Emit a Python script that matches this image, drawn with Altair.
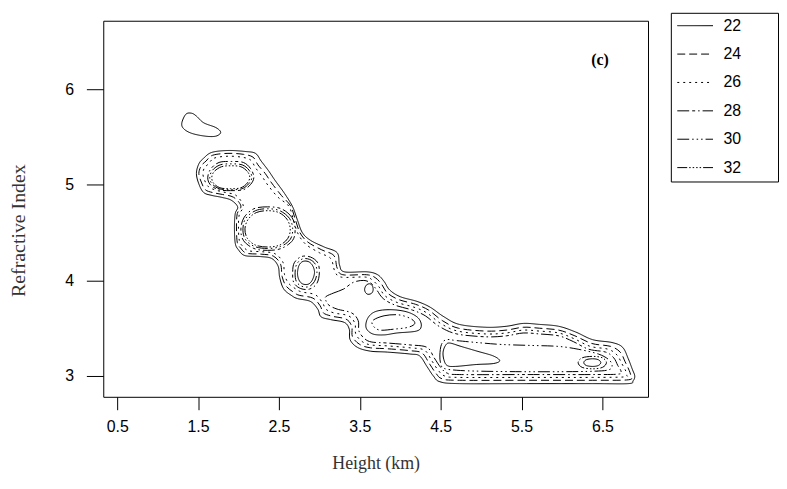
import altair as alt
import pandas as pd

# ---------------- axis ticks, legend levels, panel label ----------------
x_ticks = [0.5, 1.5, 2.5, 3.5, 4.5, 5.5, 6.5]
y_ticks = [3, 4, 5, 6]
legend_levels = ["22", "24", "26", "28", "30", "32"]
all_levels = legend_levels + ["34"]

panel_label = ["(c)"]
panel_label_x = [6.47]
panel_label_y = [6.31]

# ---------------- contour lines (height km, refractive index) ----------------
island_22 = [(1.35, 5.74), (1.42, 5.75), (1.48, 5.72), (1.57, 5.65), (1.72, 5.60), (1.78, 5.55),
             (1.72, 5.51), (1.59, 5.51), (1.42, 5.54), (1.32, 5.59), (1.30, 5.65)]

ridge_22 = [(1.57, 5.28), (1.67, 5.34), (1.87, 5.36), (2.08, 5.35), (2.21, 5.33), (2.28, 5.25), (2.37, 5.15),
            (2.45, 5.05), (2.57, 4.91), (2.67, 4.77), (2.73, 4.63), (2.79, 4.50), (2.89, 4.42), (3.06, 4.35),
            (3.22, 4.29), (3.25, 4.16), (3.31, 4.09), (3.59, 4.09), (3.72, 4.06), (3.80, 3.99), (3.87, 3.90),
            (4.00, 3.83), (4.21, 3.78), (4.37, 3.72), (4.54, 3.62), (4.73, 3.54), (5.06, 3.51), (5.31, 3.52),
            (5.52, 3.55), (5.72, 3.54), (5.96, 3.52), (6.17, 3.46), (6.38, 3.38), (6.62, 3.35), (6.75, 3.30),
            (6.82, 3.18), (6.87, 3.07), (6.90, 3.00), (6.88, 2.95), (6.82, 2.92), (6.38, 2.92), (5.56, 2.92),
            (4.73, 2.92), (4.49, 2.94), (4.41, 3.00), (4.33, 3.10), (4.24, 3.21), (4.12, 3.23), (3.84, 3.25),
            (3.63, 3.26), (3.47, 3.30), (3.38, 3.38), (3.37, 3.49), (3.31, 3.56), (3.14, 3.59), (3.02, 3.62),
            (2.98, 3.70), (2.89, 3.78), (2.73, 3.81), (2.66, 3.84), (2.56, 3.91), (2.51, 4.03), (2.49, 4.15),
            (2.41, 4.23), (2.27, 4.25), (2.08, 4.26), (2.00, 4.32), (1.96, 4.39), (1.95, 4.56), (1.96, 4.70),
            (1.99, 4.77), (1.91, 4.84), (1.79, 4.87), (1.67, 4.89), (1.57, 4.92), (1.51, 5.01), (1.48, 5.12),
            (1.51, 5.22)]

ridge_24 = [(1.60, 5.25), (1.68, 5.31), (1.87, 5.33), (2.06, 5.32), (2.18, 5.29), (2.24, 5.21), (2.33, 5.12),
            (2.41, 5.02), (2.53, 4.89), (2.645, 4.78), (2.70, 4.645), (2.76, 4.50), (2.86, 4.40), (3.03, 4.32),
            (3.18, 4.26), (3.22, 4.13), (3.29, 4.06), (3.58, 4.06), (3.69, 4.03), (3.77, 3.96), (3.84, 3.87),
            (3.98, 3.80), (4.19, 3.75), (4.35, 3.69), (4.52, 3.58), (4.72, 3.50), (5.06, 3.47), (5.31, 3.48),
            (5.52, 3.51), (5.72, 3.50), (5.96, 3.48), (6.16, 3.42), (6.37, 3.34), (6.60, 3.31), (6.72, 3.25),
            (6.78, 3.15), (6.83, 3.06), (6.85, 3.00), (6.82, 2.96), (6.38, 2.955), (5.56, 2.955), (4.73, 2.955),
            (4.52, 2.97), (4.44, 3.03), (4.36, 3.13), (4.27, 3.24), (4.12, 3.265), (3.84, 3.285), (3.63, 3.295),
            (3.50, 3.33), (3.41, 3.41), (3.40, 3.52), (3.33, 3.595), (3.16, 3.625), (3.05, 3.66), (3.01, 3.735),
            (2.92, 3.815), (2.75, 3.845), (2.685, 3.875), (2.59, 3.94), (2.54, 4.04), (2.52, 4.17), (2.43, 4.255),
            (2.28, 4.275), (2.10, 4.285), (2.025, 4.34), (1.985, 4.40), (1.975, 4.56), (1.985, 4.70), (2.03, 4.78),
            (1.94, 4.87), (1.80, 4.90), (1.68, 4.92), (1.59, 4.95), (1.54, 5.03), (1.51, 5.12), (1.54, 5.20)]

ridge_26 = [(1.63, 5.22), (1.70, 5.28), (1.87, 5.30), (2.04, 5.29), (2.15, 5.26), (2.21, 5.18), (2.29, 5.09),
            (2.37, 4.99), (2.49, 4.87), (2.62, 4.78), (2.675, 4.65), (2.73, 4.50), (2.83, 4.38), (3.00, 4.29),
            (3.14, 4.23), (3.19, 4.10), (3.27, 4.035), (3.57, 4.035), (3.66, 4.00), (3.74, 3.93), (3.81, 3.84),
            (3.96, 3.77), (4.17, 3.72), (4.33, 3.66), (4.50, 3.55), (4.71, 3.47), (5.06, 3.44), (5.31, 3.45),
            (5.52, 3.48), (5.72, 3.47), (5.96, 3.45), (6.15, 3.39), (6.35, 3.31), (6.57, 3.28), (6.68, 3.22),
            (6.74, 3.13), (6.79, 3.05), (6.80, 3.01), (6.77, 2.99), (6.38, 2.985), (5.56, 2.985), (4.73, 2.985),
            (4.55, 3.00), (4.47, 3.06), (4.39, 3.16), (4.30, 3.27), (4.12, 3.295), (3.84, 3.315), (3.64, 3.325),
            (3.53, 3.36), (3.45, 3.44), (3.44, 3.55), (3.36, 3.63), (3.18, 3.66), (3.08, 3.70), (3.04, 3.765),
            (2.95, 3.85), (2.78, 3.88), (2.71, 3.91), (2.62, 3.97), (2.57, 4.06), (2.55, 4.19), (2.45, 4.28),
            (2.30, 4.30), (2.13, 4.31), (2.05, 4.36), (2.01, 4.42), (2.00, 4.56), (2.01, 4.69), (2.06, 4.78),
            (1.97, 4.89), (1.84, 4.92), (1.72, 4.945), (1.63, 4.98), (1.58, 5.05), (1.56, 5.12), (1.58, 5.18)]

mid_tail_28 = [(3.08, 3.83), (3.18, 3.87), (3.30, 3.91), (3.42, 3.98), (3.55, 4.00), (3.64, 3.97), (3.71, 3.90),
               (3.79, 3.81), (3.94, 3.74), (4.15, 3.69), (4.31, 3.63), (4.48, 3.52), (4.70, 3.44), (5.06, 3.41),
               (5.31, 3.42), (5.52, 3.45), (5.72, 3.44), (5.96, 3.42), (6.14, 3.36), (6.33, 3.28), (6.54, 3.25),
               (6.64, 3.19), (6.69, 3.11), (6.73, 3.05), (6.70, 3.02), (6.38, 3.015), (5.56, 3.015), (4.73, 3.015),
               (4.58, 3.03), (4.50, 3.09), (4.42, 3.19), (4.33, 3.30), (4.12, 3.325), (3.84, 3.345), (3.65, 3.355),
               (3.56, 3.39), (3.49, 3.47), (3.48, 3.58), (3.40, 3.66), (3.22, 3.70), (3.12, 3.74), (3.08, 3.79)]

upper_28 = [(2.19, 5.08), (2.15, 5.17), (2.06, 5.235), (1.91, 5.245), (1.76, 5.235), (1.66, 5.17), (1.62, 5.08),
            (1.65, 5.005), (1.75, 4.95), (1.90, 4.94), (2.06, 4.95), (2.15, 5.005)]
upper_30 = [(2.165, 5.08), (2.13, 5.155), (2.045, 5.21), (1.91, 5.22), (1.775, 5.21), (1.68, 5.155), (1.645, 5.08),
            (1.67, 5.015), (1.76, 4.96), (1.90, 4.95), (2.045, 4.96), (2.13, 5.015)]
upper_32 = [(2.14, 5.08), (2.11, 5.14), (2.03, 5.19), (1.91, 5.20), (1.79, 5.19), (1.70, 5.14), (1.67, 5.08),
            (1.69, 5.02), (1.77, 4.97), (1.90, 4.96), (2.03, 4.97), (2.11, 5.02)]

lower_28 = [(2.70, 4.54), (2.66, 4.66), (2.53, 4.75), (2.36, 4.77), (2.19, 4.75), (2.07, 4.66), (2.03, 4.54),
            (2.06, 4.42), (2.19, 4.335), (2.36, 4.315), (2.53, 4.335), (2.67, 4.42)]
lower_30 = [(2.67, 4.54), (2.63, 4.65), (2.51, 4.73), (2.36, 4.75), (2.21, 4.73), (2.09, 4.65), (2.055, 4.54),
            (2.085, 4.43), (2.20, 4.355), (2.36, 4.335), (2.52, 4.355), (2.64, 4.43)]
lower_32 = [(2.64, 4.54), (2.60, 4.64), (2.50, 4.71), (2.36, 4.73), (2.22, 4.71), (2.12, 4.64), (2.08, 4.54),
            (2.11, 4.44), (2.21, 4.37), (2.36, 4.35), (2.51, 4.37), (2.61, 4.44)]

knot_28 = [(3.00, 4.08), (2.98, 4.185), (2.89, 4.245), (2.78, 4.25), (2.69, 4.185), (2.67, 4.08), (2.685, 3.975),
           (2.77, 3.915), (2.88, 3.91), (2.97, 3.97)]
knot_30 = [(2.97, 4.08), (2.95, 4.17), (2.88, 4.22), (2.79, 4.225), (2.72, 4.17), (2.70, 4.08), (2.715, 3.99),
           (2.78, 3.94), (2.87, 3.935), (2.94, 3.99)]
knot_34 = [(2.94, 4.08), (2.92, 4.15), (2.87, 4.195), (2.80, 4.20), (2.75, 4.16), (2.73, 4.08), (2.745, 4.01),
           (2.79, 3.965), (2.86, 3.96), (2.91, 4.00)]

oval_34 = [(3.56, 3.91), (3.58, 3.95), (3.62, 3.965), (3.655, 3.945), (3.665, 3.90), (3.645, 3.865), (3.60, 3.855),
           (3.57, 3.875)]

mid_34 = [(3.59, 3.59), (3.66, 3.66), (3.78, 3.69), (3.96, 3.69), (4.12, 3.66), (4.23, 3.60), (4.26, 3.52),
          (4.20, 3.47), (3.96, 3.45), (3.80, 3.43), (3.66, 3.44), (3.58, 3.50)]
mid_30 = [(3.66, 3.58), (3.80, 3.63), (3.98, 3.64), (4.13, 3.60), (4.18, 3.55), (4.10, 3.51), (3.92, 3.49),
          (3.75, 3.48), (3.67, 3.52)]

tail_30 = [(4.50, 3.13), (4.49, 3.22), (4.51, 3.33), (4.57, 3.38), (4.70, 3.37), (4.95, 3.35), (5.25, 3.33),
           (5.60, 3.32), (5.95, 3.31), (6.20, 3.28), (6.45, 3.23), (6.58, 3.17), (6.62, 3.11), (6.58, 3.065),
           (6.40, 3.05), (6.00, 3.045), (5.50, 3.045), (5.00, 3.05), (4.70, 3.06), (4.54, 3.08)]
tongue_34 = [(4.53, 3.25), (4.56, 3.32), (4.61, 3.345), (4.75, 3.31), (4.95, 3.26), (5.15, 3.21), (5.23, 3.16),
             (5.15, 3.13), (4.94, 3.12), (4.68, 3.10), (4.58, 3.11), (4.54, 3.17)]
end_32 = [(6.20, 3.14), (6.25, 3.19), (6.38, 3.205), (6.50, 3.19), (6.55, 3.14), (6.50, 3.09), (6.38, 3.075),
          (6.25, 3.09)]
end_34 = [(6.27, 3.14), (6.30, 3.17), (6.38, 3.18), (6.45, 3.17), (6.48, 3.14), (6.45, 3.11), (6.38, 3.10),
          (6.30, 3.11)]

contours = [
    ("22", "island_22", island_22), ("22", "ridge_22", ridge_22), ("24", "ridge_24", ridge_24),
    ("26", "ridge_26", ridge_26), ("28", "mid_tail_28", mid_tail_28),
    ("28", "upper_28", upper_28), ("30", "upper_30", upper_30), ("32", "upper_32", upper_32),
    ("28", "lower_28", lower_28), ("30", "lower_30", lower_30), ("32", "lower_32", lower_32),
    ("28", "knot_28", knot_28), ("30", "knot_30", knot_30), ("34", "knot_34", knot_34),
    ("34", "oval_34", oval_34), ("34", "mid_34", mid_34), ("30", "mid_30", mid_30),
    ("30", "tail_30", tail_30), ("34", "tongue_34", tongue_34), ("32", "end_32", end_32), ("34", "end_34", end_34),
]

rows = []
for level, cid, pts in contours:
    for i, (hx, ry) in enumerate(pts):
        rows.append({"id": cid, "level": level, "i": i, "height": hx, "refr": ry})
df = pd.DataFrame(rows)
lab_df = pd.DataFrame({"height": panel_label_x, "refr": panel_label_y, "text": panel_label})

# ---------------- styles ----------------
dash_range = [[1, 0], [8, 4], [2, 4], [12, 3, 3, 3, 1.5, 3], [12, 3, 1.5, 3, 1.5, 3, 1.5, 3],
              [10, 2, 1.5, 2, 1.5, 2, 1.5, 2, 1.5, 2], [1, 0]]

# trailing non-breaking spaces (kept from trimming by a zero-width space) widen the legend box
pad_label = "datum.label + '" + "\u00a0" * 7 + "\u200b'"

x_enc = alt.X("height:Q", scale=alt.Scale(domain=[0.328, 7.064], nice=False, zero=False),
              axis=alt.Axis(values=x_ticks, format=".1f", title="Height (km)", tickSize=13, labelPadding=9,
                            titlePadding=20, titleFontSize=18))
y_enc = alt.Y("refr:Q", scale=alt.Scale(domain=[2.782, 6.718], nice=False, zero=False),
              axis=alt.Axis(values=y_ticks, format="d", title="Refractive Index", tickSize=17, labelPadding=13,
                            titlePadding=36, titleFontSize=20, titleY=211))

lines = alt.Chart(df).mark_line(interpolate="cardinal-closed", color="black", strokeWidth=1).encode(
    x=x_enc,
    y=y_enc,
    strokeDash=alt.StrokeDash(
        "level:N",
        scale=alt.Scale(domain=all_levels, range=dash_range),
        legend=alt.Legend(
            values=legend_levels, title=None, orient="none", legendX=572, legendY=-8,
            symbolType="stroke", symbolSize=1296, symbolStrokeWidth=1, symbolStrokeColor="black",
            labelFont="Liberation Sans", labelFontSize=16, labelColor="black", labelOffset=10,
            labelExpr=pad_label, padding=6, strokeColor="black",
            clipHeight=14, rowPadding=12.6,
        ),
    ),
    detail="id:N",
    order="i:Q",
)

label = alt.Chart(lab_df).mark_text(font="Liberation Serif", fontWeight="bold", fontSize=16,
                                     color="black").encode(x=x_enc, y=y_enc, text="text:N")

chart = (
    alt.layer(lines, label)
    .properties(width=549, height=379, autosize=alt.AutoSizeParams(type="none"),
                padding={"left": 96, "top": 11, "right": 132, "bottom": 83}, background="white")
    .configure_view(stroke="black", strokeWidth=1)
    .configure_axis(labelFont="Liberation Sans", labelFontSize=16, labelColor="black", tickColor="black",
                    tickWidth=1, domain=False, grid=False, titleFont="Liberation Serif",
                    titleFontWeight="normal", titleColor="#333333")
)

chart.save("out.html", embed_options={"renderer": "svg", "actions": False})
